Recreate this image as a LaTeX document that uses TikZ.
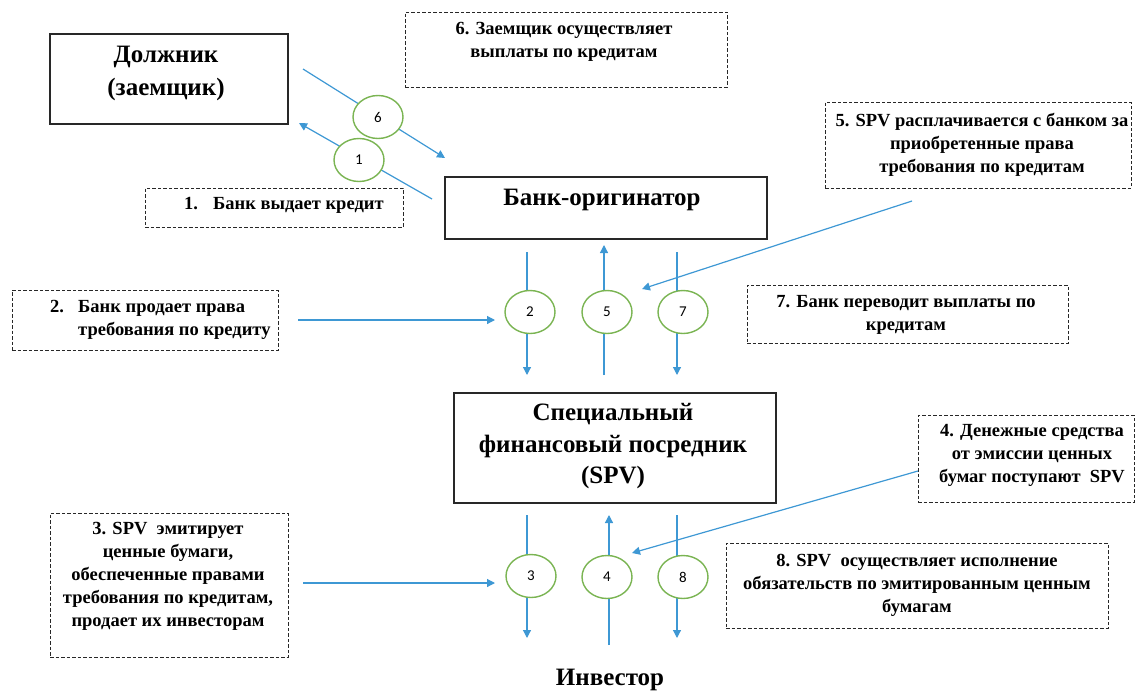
\documentclass[tikz,border=0pt]{standalone}
\usepackage{fontspec}
\setmainfont{Liberation Serif}
\newfontfamily\numfont{Carlito}
\usetikzlibrary{arrows.meta,shapes.geometric}
\definecolor{arrblue}{RGB}{62,152,212}
\definecolor{cgreen}{RGB}{122,180,82}
\definecolor{boxgray}{RGB}{40,40,40}
\tikzset{
  dbox/.style={draw=boxgray, line width=1pt, dash pattern=on 3.5pt off 2pt, inner sep=0pt},
  sbox/.style={draw=boxgray, line width=1.5pt, inner sep=0pt},
  lbl/.style={font=\fontsize{18.5}{23}\selectfont\bfseries, align=center, inner sep=0pt},
  big/.style={font=\fontsize{25}{32}\selectfont\bfseries, align=center, inner sep=0pt},
  num/.style={ellipse, draw=cgreen, line width=1.4pt, fill=white, minimum width=50pt, minimum height=43pt, inner sep=0pt, font=\numfont\fontsize{15}{18}\selectfont},
  arr/.style={draw=arrblue, line width=1.2pt, -{Triangle[length=8pt,width=8pt]}},
}
\begin{document}
\begin{tikzpicture}[x=1pt,y=-1pt]
\useasboundingbox (0,0) rectangle (1136,694);
% solid boxes
\node[sbox, minimum width=238pt, minimum height=90pt] (deb) at (169,79) {};
\node[big, font=\fontsize{25}{33}\selectfont\bfseries] (tdeb) at (166,73.5) {Должник\\(заемщик)};
\node[sbox, minimum width=322pt, minimum height=62pt] (bank) at (606,208) {};
\node[big] (tbank) at (602,200) {Банк-оригинатор};
\node[sbox, minimum width=322pt, minimum height=110pt] (spv) at (615,448) {};
\node[big, font=\fontsize{25}{31.5}\selectfont\bfseries] (tspv) at (613,446.5) {Специальный\\финансовый посредник\\(SPV)};
\node[big] (inv) at (610,680) {Инвестор};
% dashed boxes
\node[dbox, minimum width=322pt, minimum height=75pt] (b6) at (566,49.5) {};
\node[lbl] (t6) at (564,41.5) {6. Заемщик осуществляет\\выплаты по кредитам};
\node[dbox, minimum width=258pt, minimum height=39pt] (b1) at (274,207.5) {};
\node[lbl, anchor=west] (t1) at (184,205) {\makebox[29pt][l]{1.}Банк выдает кредит};
\node[dbox, minimum width=306pt, minimum height=86pt] (b5) at (978,145) {};
\node[lbl] (t5) at (982,144.5) {5. SPV расплачивается с банком за\\приобретенные права\\требования по кредитам};
\node[dbox, minimum width=266pt, minimum height=60pt] (b2) at (145,320) {};
\node[lbl, align=left, anchor=west] (t2) at (50,320) {\makebox[28pt][l]{2.}Банк продает права\\\hspace*{28pt}требования по кредиту};
\node[dbox, minimum width=321pt, minimum height=58pt] (b7) at (907.5,314) {};
\node[lbl] (t7) at (906,314.5) {7. Банк переводит выплаты по\\кредитам};
\node[dbox, minimum width=216pt, minimum height=87pt] (b4) at (1026,458.5) {};
\node[lbl] (t4) at (1032,455.5) {4. Денежные средства\\от эмиссии ценных\\бумаг поступают\ \ SPV};
\node[dbox, minimum width=238pt, minimum height=144pt] (b3) at (169,585) {};
\node[lbl] (t3) at (168,576.5) {3. SPV\ \ эмитирует\\ценные бумаги,\\обеспеченные правами\\требования по кредитам,\\продает их инвесторам};
\node[dbox, minimum width=382pt, minimum height=85pt] (b8) at (917,585.5) {};
\node[lbl] (t8) at (917,585) {8. SPV\ \ осуществляет исполнение\\обязательств по эмитированным ценным\\бумагам};
% connector end points
\coordinate (s6) at (303,69);   \coordinate (e6) at (445,158);
\coordinate (s1) at (432,199);  \coordinate (e1) at (299,123);
\coordinate (s2h) at (298,320); \coordinate (e2h) at (495,320);
\coordinate (s2) at (527,252);  \coordinate (e2) at (527,375);
\coordinate (s5) at (604,375);  \coordinate (e5) at (604,245);
\coordinate (s7) at (677,252);  \coordinate (e7) at (677,375);
\coordinate (s5d) at (912,201); \coordinate (e5d) at (642,289);
\coordinate (s3h) at (303,583); \coordinate (e3h) at (495,583);
\coordinate (s3) at (527,515);  \coordinate (e3) at (527,638);
\coordinate (s4) at (609,645);  \coordinate (e4) at (609,515);
\coordinate (s8) at (677,515);  \coordinate (e8) at (677,638);
\coordinate (s4d) at (918,471); \coordinate (e4d) at (632,553);
% connectors
\foreach \a in {6,1,2h,2,5,7,5d,3h,3,4,8,4d}{\draw[arr] (s\a) -- (e\a);}
% numbered ellipses
\node[num] (c6) at (378,117) {6};
\node[num] (c1) at (359,160) {1};
\node[num] (c2) at (530,312) {2};
\node[num] (c5) at (607,312) {5};
\node[num] (c7) at (683,312) {7};
\node[num] (c3) at (531,576) {3};
\node[num] (c4) at (607,577) {4};
\node[num] (c8) at (683,577) {8};
\end{tikzpicture}
\end{document}
